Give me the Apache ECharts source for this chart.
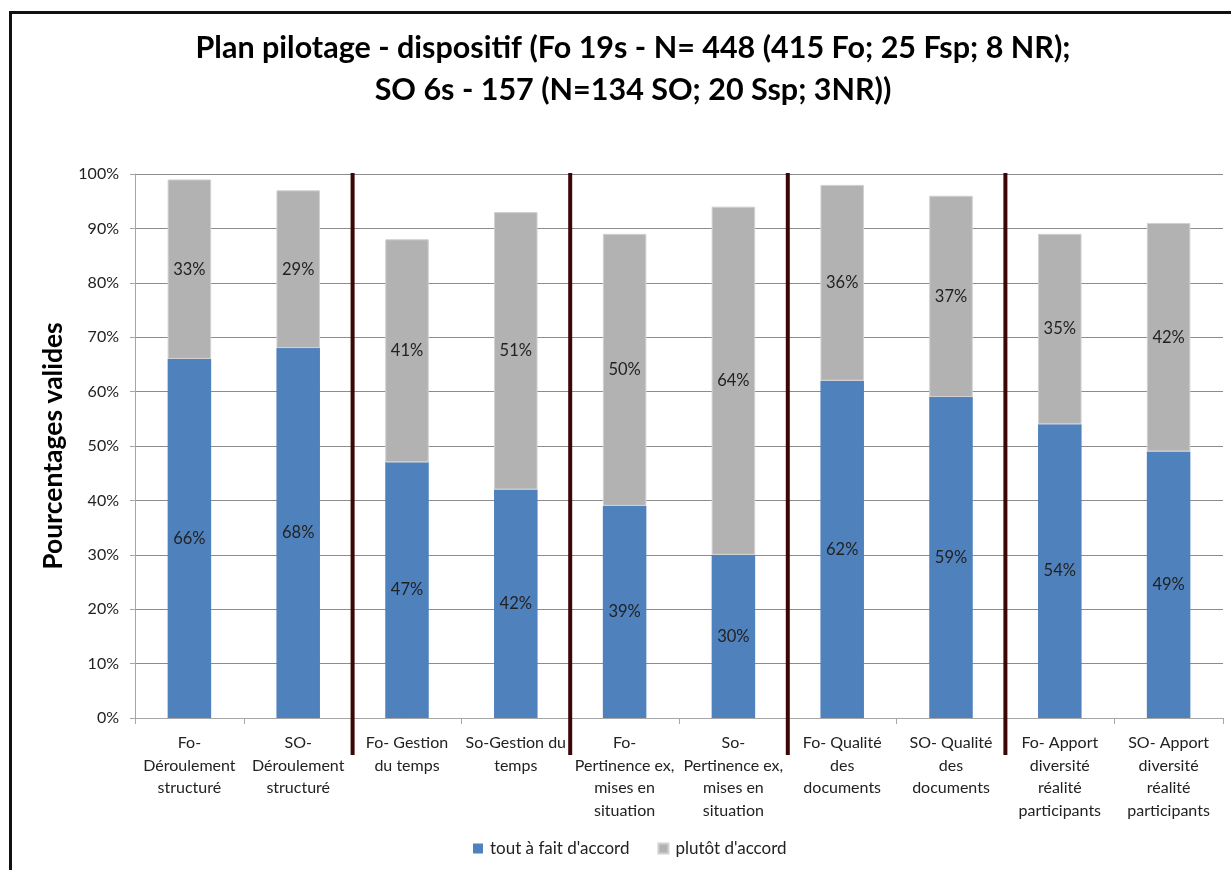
<!DOCTYPE html>
<html>
<head>
<meta charset="utf-8">
<script src="https://cdn.jsdelivr.net/npm/echarts@6/dist/echarts.min.js"></script>
<style>
  html, body { margin: 0; padding: 0; background: #fff; }
  #chart { width: 1231px; height: 870px; }
</style>
</head>
<body>
<div id="chart"></div>
<script>
// Questions asked to each group (Fo / SO), shown pairwise
const categories = [
  'Fo-\nDéroulement\nstructuré',
  'SO-\nDéroulement\nstructuré',
  'Fo- Gestion\ndu temps',
  'So-Gestion du\ntemps',
  'Fo-\nPertinence ex,\nmises en\nsituation',
  'So-\nPertinence ex,\nmises en\nsituation',
  'Fo- Qualité\ndes\ndocuments',
  'SO- Qualité\ndes\ndocuments',
  'Fo- Apport\ndiversité\nréalité\nparticipants',
  'SO- Apport\ndiversité\nréalité\nparticipants'
];
// Percentages of valid answers
const toutAFait = [66, 68, 47, 42, 39, 30, 62, 59, 54, 49];
const plutot    = [33, 29, 41, 51, 50, 64, 36, 37, 35, 42];
const yTicks = [0, 10, 20, 30, 40, 50, 60, 70, 80, 90, 100];
// Vertical dividers sit after these category counts
const dividerAfter = [2, 4, 6, 8];

const FONT = 'Lato, "Open Sans", sans-serif';
const chart = echarts.init(document.getElementById('chart'), null, { renderer: 'canvas' });

const labelStyle = {
  show: true,
  position: 'inside',
  formatter: p => p.value + '%',
  color: '#222',
  fontSize: 16.5,
  fontFamily: FONT
};

chart.setOption({
  backgroundColor: '#fff',
  animation: false,
  title: {
    text: 'Plan pilotage - dispositif (Fo 19s - N= 448 (415 Fo; 25 Fsp; 8 NR);\nSO 6s - 157 (N=134 SO; 20 Ssp; 3NR))',
    left: 628,
    top: 22,
    textAlign: 'center',
    textStyle: {
      fontFamily: FONT,
      fontSize: 30.5,
      fontWeight: 'bold',
      color: '#000',
      lineHeight: 42
    }
  },
  legend: {
    bottom: 8,
    left: 468,
    itemWidth: 10,
    itemHeight: 10,
    itemGap: 28,
    icon: 'rect',
    textStyle: { fontFamily: FONT, fontSize: 17, color: '#222', padding: [0, 0, 0, 2] },
    data: ["tout à fait d'accord", "plutôt d'accord"]
  },
  grid: { left: 135, right: 8, top: 174, bottom: 152, containLabel: false },
  xAxis: {
    type: 'category',
    data: categories,
    axisLine: { lineStyle: { color: '#a6a6a6', width: 1 } },
    axisTick: { show: true, length: 6, lineStyle: { color: '#a6a6a6' } },
    axisLabel: {
      interval: 0,
      margin: 14,
      fontFamily: FONT,
      fontSize: 16,
      color: '#222',
      lineHeight: 22.5
    }
  },
  yAxis: {
    type: 'value',
    min: yTicks[0],
    max: yTicks[yTicks.length - 1],
    interval: 10,
    name: 'Pourcentages valides',
    nameLocation: 'middle',
    nameGap: 64,
    nameRotate: 90,
    nameTextStyle: { fontFamily: FONT, fontSize: 26.5, fontWeight: 'bold', color: '#000' },
    axisLine: { show: true, lineStyle: { color: '#a6a6a6' } },
    axisTick: { show: true, length: 5, lineStyle: { color: '#a6a6a6' } },
    axisLabel: {
      formatter: v => v + '%',
      margin: 16,
      fontFamily: FONT,
      fontSize: 16,
      color: '#222'
    },
    splitLine: { lineStyle: { color: '#8c8c8c', width: 1 } }
  },
  series: [
    {
      name: "tout à fait d'accord",
      type: 'bar',
      stack: 'total',
      data: toutAFait,
      barCategoryGap: '60%',
      itemStyle: { color: '#4f81bd' },
      label: labelStyle
    },
    {
      name: "plutôt d'accord",
      type: 'bar',
      stack: 'total',
      data: plutot,
      itemStyle: { color: '#b2b2b2', borderColor: '#d0d0d0', borderWidth: 1 },
      label: labelStyle
    }
  ]
});

// Frame and group dividers, placed from the axis scales
function drawOverlay() {
  const yTop = chart.convertToPixel({ yAxisIndex: 0 }, yTicks[yTicks.length - 1]);
  const yZero = chart.convertToPixel({ yAxisIndex: 0 }, 0);
  const elements = dividerAfter.map(n => {
    const a = chart.convertToPixel({ xAxisIndex: 0 }, n - 1);
    const b = chart.convertToPixel({ xAxisIndex: 0 }, n);
    const x = (a + b) / 2;
    return {
      type: 'line',
      shape: { x1: x, y1: yTop - 1, x2: x, y2: yZero + 37 },
      style: { stroke: '#3d0606', lineWidth: 4 },
      z: 10
    };
  });
  elements.push({
    type: 'rect',
    shape: { x: 10.5, y: 12.5, width: 1400, height: 1000 },
    style: { fill: 'none', stroke: '#111', lineWidth: 3 },
    z: 10
  });
  chart.setOption({ graphic: { elements } });
}
drawOverlay();
</script>
</body>
</html>
